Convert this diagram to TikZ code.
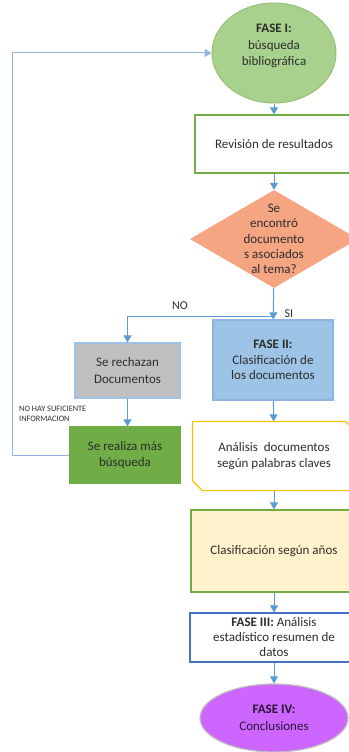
\documentclass[tikz,border=0pt]{standalone}
\usepackage{fontspec}
\setmainfont{Carlito}
\usetikzlibrary{shapes.geometric,arrows.meta}
\definecolor{verdeclaro}{RGB}{169,209,142}
\definecolor{verdeborde}{RGB}{150,190,120}
\definecolor{verde}{RGB}{112,173,71}
\definecolor{salmon}{RGB}{245,165,130}
\definecolor{gris}{RGB}{191,191,191}
\definecolor{celeste}{RGB}{157,195,230}
\definecolor{celesteborde}{RGB}{143,180,222}
\definecolor{dorado}{RGB}{255,192,0}
\definecolor{crema}{RGB}{255,242,204}
\definecolor{azul}{RGB}{68,114,196}
\definecolor{violeta}{RGB}{204,102,255}
\definecolor{flechaazul}{RGB}{91,155,213}
\definecolor{texto}{RGB}{45,45,45}
\tikzset{
	flecha/.style={->, >={Triangle[length=7pt, width=8pt]}, draw=flechaazul, line width=1pt},
	caja/.style={rectangle, align=center, text=texto, font=\fontsize{13}{16.5}\selectfont, inner sep=2pt, line width=1.2pt},
}

\begin{document}
\begin{tikzpicture}[x=1pt, y=-1pt]
				\useasboundingbox (0,0) rectangle (348,752);
				\node[ellipse, draw=verdeborde, fill=verdeclaro, line width=1pt, minimum width=124pt, minimum height=100pt, label={[caja, yshift=7pt]center:\textbf{FASE I:}\\búsqueda\\bibliográfica}] (F1)at(274, 53) {};
				\node[caja, draw=verde, fill=white, minimum width=158pt, minimum height=58pt] (REV)at(274, 144) {Revisión de resultados};
				\node[diamond, fill=salmon, inner sep=0pt, minimum width=168pt, minimum height=98pt, label={[caja, font=\fontsize{13}{15.3}\selectfont]center:Se\\encontró\\documento\\s asociados\\al tema?}] (DEC)at(274, 239) {};
				\coordinate (DIV)at(274, 316);
				\node[caja, draw=celeste, fill=gris, minimum width=105pt, minimum height=55pt] (RECH)at(127.5, 370.5) {Se rechazan\\Documentos};
				\node[caja, draw=celesteborde, fill=celeste, minimum width=120pt, minimum height=80pt, font=\fontsize{13}{15.5}\selectfont] (F2)at(273, 360) {\textbf{FASE II:}\\Clasificación de\\los documentos};
				\node[caja, draw=verde, fill=verde, minimum width=110pt, minimum height=56pt] (BUS)at(125, 455) {Se realiza más\\búsqueda};
				\coordinate (RET)at(12, 455);
				\node[anchor=north west, align=left, text=texto, font=\fontsize{8.3}{10}\selectfont, inner sep=0pt] (NOTA)at(19, 406) {NO HAY SUFICIENTE\\INFORMACION};
				\node[caja, fill=white, minimum width=162pt, minimum height=68pt] (ANA)at(274, 456) {Análisis~ documentos\\según palabras claves};
				\draw[dorado, line width=1.2pt] (ANA.north west) -- ([xshift=-10pt]ANA.north east) -- ([yshift=-10pt]ANA.north east) -- (ANA.south east) -- ([xshift=10pt]ANA.south west) -- ([yshift=10pt]ANA.south west) -- cycle;
				\node[caja, draw=verde, fill=crema, minimum width=166pt, minimum height=82pt] (CLA)at(274, 551) {Clasificación según años};
				\node[caja, draw=azul, fill=white, minimum width=168pt, minimum height=49pt, font=\fontsize{13}{15}\selectfont] (F3)at(274, 637.5) {\textbf{FASE III:} Análisis\\estadístico resumen de\\datos};
				\node[caja, ellipse, draw=gris, fill=violeta, text=black!80!violeta, minimum width=148pt, minimum height=68pt] (F4)at(274, 718) {\textbf{FASE IV:}\\Conclusiones};
				\node[text=texto, font=\fontsize{12}{14}\selectfont] (NO)at(180, 306) {NO};
				\node[text=texto, font=\fontsize{12}{14}\selectfont] (SI)at(289, 314) {SI};
				\draw[flecha] (F1) -- (REV);
				\draw[flecha] (REV) -- (DEC);
				\draw[flecha] (DEC) -- (F2);
				\draw[flecha] (DIV) -| (RECH);
				\draw[flecha] (RECH.south) -- (RECH.south |- BUS.north);
				\draw[flecha, draw=celesteborde] (BUS.west) -- (RET) |- (F1.west);
				\draw[flecha] (F2) -- (ANA);
				\draw[flecha] (ANA) -- (CLA);
				\draw[flecha] (CLA) -- (F3);
				\draw[flecha] (F3) -- (F4);
			\end{tikzpicture}
\end{document}
